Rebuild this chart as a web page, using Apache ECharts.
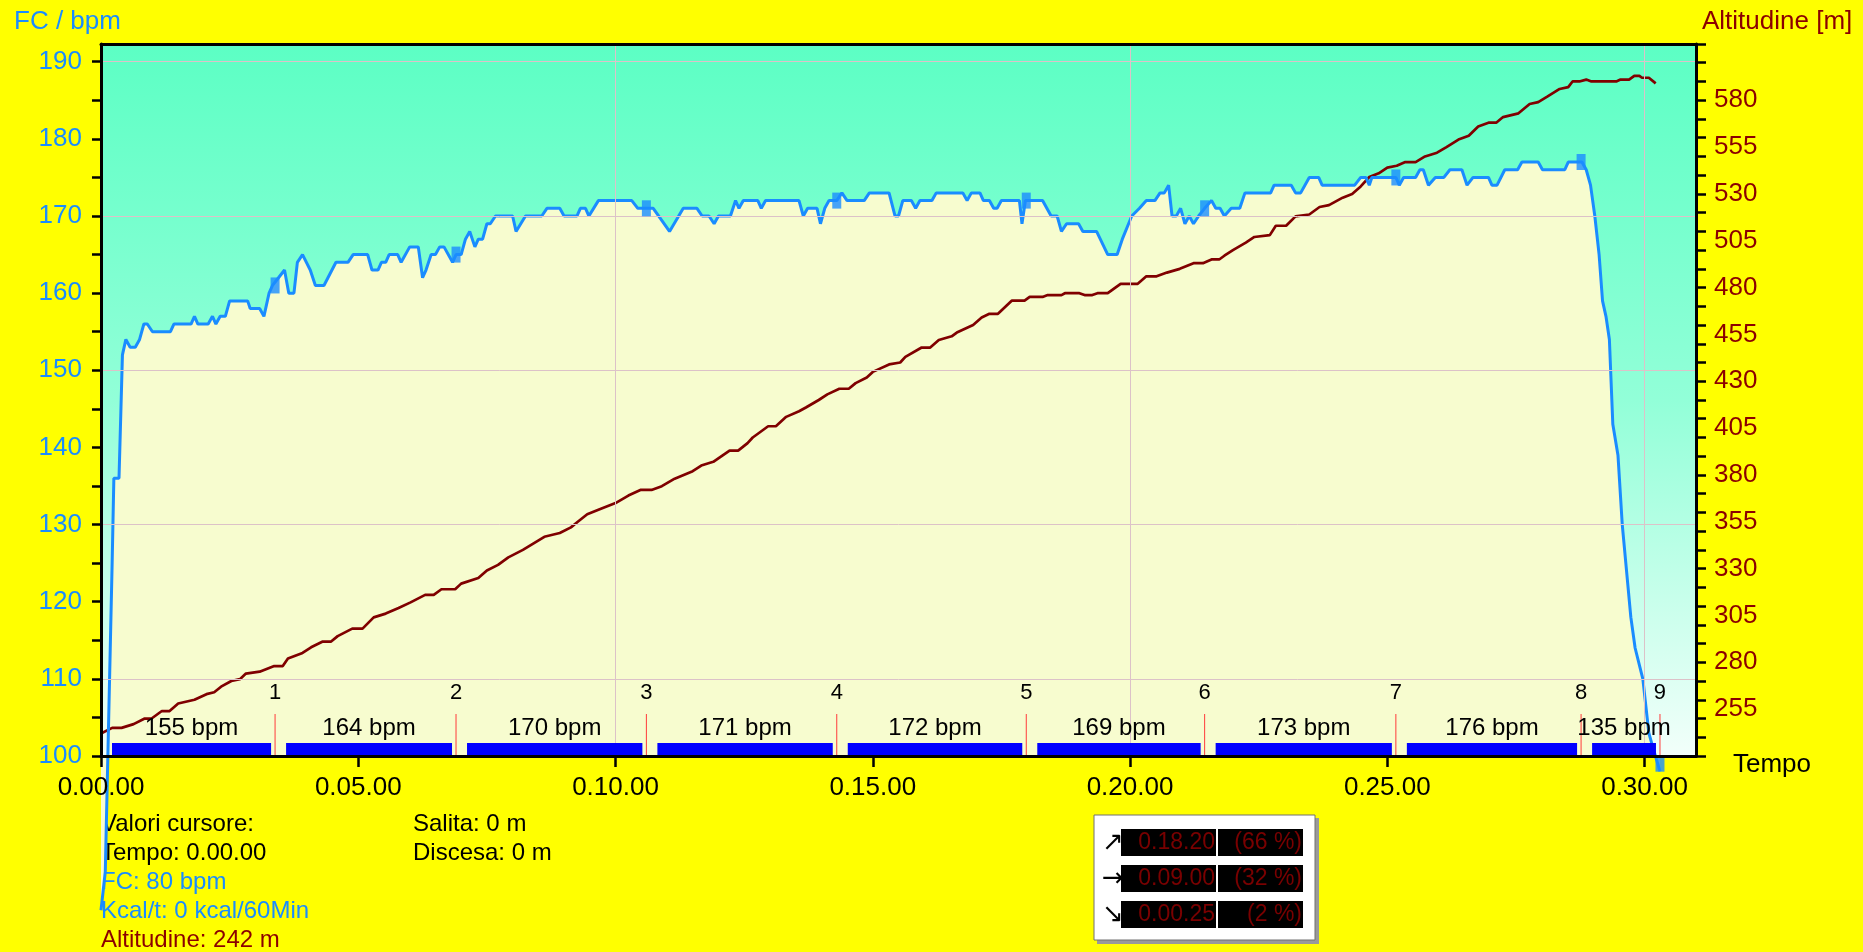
<!DOCTYPE html>
<html>
<head>
<meta charset="utf-8">
<title>FC / Altitudine</title>
<script src="https://cdn.jsdelivr.net/npm/echarts@6/dist/echarts.min.js"></script>
<style>
  html, body { margin: 0; padding: 0; background: #ffff00; }
  #chart { width: 1863px; height: 952px; }
</style>
</head>
<body>
<div id="chart"></div>
<script>
// heart rate trace: [seconds, bpm]
const hrSamples = [
  [0, 80], [5, 85], [11, 115], [13, 125], [15, 136], [21, 136], [25, 152], [29, 154], [34, 153], [40, 153],
  [45, 154], [50, 156], [54, 156], [60, 155], [81, 155], [85, 156], [105, 156], [109, 157], [113, 156], [125, 156],
  [130, 157], [134, 156], [139, 157], [145, 157], [150, 159], [171, 159], [174, 158], [185, 158], [190, 157], [196, 160],
  [200, 161], [207, 162], [214, 163], [219, 160], [225, 160], [229, 164], [235, 165], [244, 163], [250, 161], [260, 161],
  [274, 164], [288, 164], [294, 165], [311, 165], [316, 163], [323, 163], [327, 164], [332, 164], [336, 165], [346, 165],
  [350, 164], [360, 166], [370, 166], [375, 162], [379, 163], [385, 165], [390, 165], [395, 166], [400, 166], [410, 164],
  [414, 165], [420, 165], [425, 167], [430, 168], [436, 166], [440, 167], [445, 167], [450, 169], [454, 169], [460, 170],
  [480, 170], [484, 168], [495, 170], [514, 170], [520, 171], [535, 171], [540, 170], [555, 170], [559, 171], [565, 171],
  [569, 170], [580, 172], [619, 172], [626, 171], [644, 171], [663, 168], [665, 168], [679, 171], [695, 171], [701, 170],
  [709, 170], [715, 169], [720, 170], [734, 170], [740, 172], [744, 171], [749, 172], [766, 172], [770, 171], [775, 172],
  [814, 172], [819, 170], [824, 171], [835, 171], [839, 169], [844, 171], [849, 172], [858, 172], [864, 173], [870, 172],
  [890, 172], [896, 173], [919, 173], [926, 170], [930, 170], [935, 172], [945, 172], [950, 171], [955, 172], [969, 172],
  [974, 173], [1005, 173], [1010, 172], [1015, 173], [1025, 173], [1029, 172], [1036, 172], [1041, 171], [1045, 171], [1050, 172],
  [1071, 172], [1074, 169], [1078, 172], [1087, 172], [1098, 172], [1108, 170], [1115, 170], [1120, 168], [1126, 169], [1140, 169],
  [1145, 168], [1161, 168], [1174, 165], [1185, 165], [1191, 167], [1202, 170], [1211, 171], [1219, 172], [1229, 172], [1235, 173],
  [1240, 173], [1245, 174], [1249, 170], [1254, 170], [1259, 171], [1264, 169], [1269, 170], [1274, 169], [1280, 170], [1287, 171],
  [1295, 172], [1300, 171], [1305, 171], [1310, 170], [1318, 171], [1328, 171], [1334, 173], [1364, 173], [1368, 174], [1388, 174],
  [1393, 173], [1399, 173], [1409, 175], [1420, 175], [1424, 174], [1462, 174], [1469, 175], [1475, 175], [1479, 174], [1482, 175],
  [1510, 175], [1514, 174], [1519, 175], [1533, 175], [1538, 176], [1542, 176], [1548, 174], [1556, 175], [1566, 175], [1573, 176],
  [1587, 176], [1593, 174], [1600, 175], [1618, 175], [1622, 174], [1628, 174], [1637, 176], [1652, 176], [1657, 177], [1676, 177],
  [1681, 176], [1707, 176], [1711, 177], [1721, 177], [1727, 177], [1732, 176], [1737, 174], [1742, 170], [1747, 165], [1751, 159],
  [1755, 157], [1759, 154], [1763, 143], [1769, 139], [1774, 130], [1779, 124], [1784, 118], [1789, 114], [1798, 110], [1805, 103],
  [1810, 101], [1818, 98]
];

// altitude trace: [seconds, metres]
const altSamples = [
  [0, 242], [13, 245], [24, 245], [38, 247], [51, 250], [59, 250], [71, 254], [80, 254], [90, 258], [109, 260],
  [123, 263], [132, 264], [140, 267], [152, 270], [162, 271], [169, 274], [185, 275], [202, 278], [212, 278], [218, 282],
  [235, 285], [245, 288], [258, 291], [268, 291], [276, 294], [293, 298], [305, 298], [318, 304], [332, 306], [347, 309],
  [361, 312], [378, 316], [388, 316], [397, 319], [413, 319], [420, 322], [440, 325], [450, 329], [463, 332], [475, 336],
  [492, 340], [517, 347], [535, 349], [548, 352], [556, 355], [567, 359], [583, 362], [600, 365], [615, 369], [629, 372],
  [642, 372], [654, 374], [669, 378], [690, 382], [700, 385], [714, 387], [733, 393], [743, 393], [754, 397], [760, 400],
  [778, 406], [787, 406], [799, 411], [814, 414], [822, 416], [837, 420], [847, 423], [861, 426], [872, 426], [880, 429],
  [893, 432], [900, 435], [919, 439], [932, 440], [938, 443], [957, 448], [967, 448], [977, 452], [992, 454], [998, 456],
  [1017, 460], [1027, 464], [1036, 466], [1046, 466], [1062, 473], [1077, 473], [1083, 475], [1098, 475], [1104, 476], [1120, 476],
  [1124, 477], [1141, 477], [1147, 476], [1156, 476], [1162, 477], [1174, 477], [1189, 482], [1209, 482], [1219, 486], [1231, 486],
  [1243, 488], [1258, 490], [1274, 493], [1285, 493], [1295, 495], [1304, 495], [1310, 497], [1320, 500], [1335, 504], [1345, 507],
  [1363, 508], [1370, 513], [1382, 513], [1393, 518], [1409, 519], [1421, 523], [1432, 524], [1448, 528], [1459, 530], [1469, 534],
  [1479, 539], [1490, 541], [1500, 544], [1511, 545], [1521, 547], [1533, 547], [1544, 550], [1558, 552], [1569, 555], [1583, 559],
  [1595, 561], [1606, 566], [1618, 568], [1627, 568], [1635, 571], [1653, 573], [1666, 578], [1676, 579], [1687, 582], [1701, 586],
  [1711, 587], [1716, 590], [1724, 590], [1732, 591], [1738, 590], [1767, 590], [1772, 591], [1782, 591], [1788, 593], [1794, 593],
  [1797, 592], [1805, 592], [1813, 589]
];

// laps
const lapEnd = [203, 414, 636, 858, 1079, 1287, 1510, 1726, 1818];
const lapAvgBpm = [155, 164, 170, 171, 172, 169, 173, 176, 135];
const lapMarkBpm = [161, 165, 171, 172, 172, 171, 175, 177, 99];

// grid lines
const hrGridLines = [110, 130, 150, 170, 190];
const timeGridLines = [600, 1200, 1800];

// texts under the chart
const cursorLines = ['Valori cursore:', 'Tempo: 0.00.00', 'FC: 80 bpm', 'Kcal/t: 0 kcal/60Min', 'Altitudine: 242 m'];
const climbLines = ['Salita: 0 m', 'Discesa: 0 m'];
const zoneTimes = ['0.18.20', '0.09.00', '0.00.25'];
const zonePct = ['(66 %)', '(32 %)', '(2 %)'];
const zoneArrows = ['\u2197', '\u2192', '\u2198'];

const FONT = '"Liberation Sans", Arial, sans-serif';
const BLUE = '#1a8cff';
const DARKRED = '#8b0000';

function fmtTime(s) {
  const h = Math.floor(s / 3600);
  const m = Math.floor((s % 3600) / 60);
  const sec = Math.round(s % 60);
  return h + '.' + String(m).padStart(2, '0') + '.' + String(sec).padStart(2, '0');
}

const lapData = lapEnd.map((e, i) => [i ? lapEnd[i - 1] : 0, e, lapAvgBpm[i], i + 1]);

const cursorColors = ['#000', '#000', BLUE, BLUE, DARKRED];
const graphic = [
  { type: 'text', left: 14, top: 9, style: { text: 'FC / bpm', font: '26px ' + FONT, fill: BLUE } },
  { type: 'text', left: 1702, top: 9, style: { text: 'Altitudine [m]', font: '26px ' + FONT, fill: DARKRED } },
  { type: 'text', left: 1733, top: 752, style: { text: 'Tempo', font: '26px ' + FONT, fill: '#000' } }
];
cursorLines.forEach((t, i) => {
  graphic.push({ type: 'text', left: 101, top: 812 + i * 29.2, style: { text: t, font: '24px ' + FONT, fill: cursorColors[i] } });
});
climbLines.forEach((t, i) => {
  graphic.push({ type: 'text', left: 413, top: 812 + i * 29.2, style: { text: t, font: '24px ' + FONT, fill: '#000' } });
});
// time-in-zone box
graphic.push({ type: 'rect', shape: { x: 1097, y: 818, width: 222, height: 126 }, style: { fill: '#9a9a9a' } });
graphic.push({ type: 'rect', shape: { x: 1094, y: 815, width: 221, height: 125 }, style: { fill: '#fff', stroke: '#707070', lineWidth: 1 } });
zoneTimes.forEach((t, i) => {
  const y = 829 + i * 36;
  graphic.push({ type: 'rect', shape: { x: 1121, y: y, width: 95, height: 27 }, style: { fill: '#000' } });
  graphic.push({ type: 'rect', shape: { x: 1218, y: y, width: 85, height: 27 }, style: { fill: '#000' } });
  graphic.push({ type: 'text', x: 1215, y: y + 14, style: { text: t, font: '23px ' + FONT, fill: '#7a0000', align: 'right', verticalAlign: 'middle' } });
  graphic.push({ type: 'text', x: 1302, y: y + 14, style: { text: zonePct[i], font: '23px ' + FONT, fill: '#7a0000', align: 'right', verticalAlign: 'middle' } });
  graphic.push({ type: 'text', x: 1113, y: y + 14, style: { text: zoneArrows[i], font: '26px "DejaVu Sans"', fill: '#000', align: 'center', verticalAlign: 'middle' } });
});

const option = {
  animation: false,
  backgroundColor: '#ffff00',
  textStyle: { fontFamily: FONT },
  grid: {
    left: 101, right: 167, top: 44, bottom: 196,
    show: true,
    borderWidth: 0,
    backgroundColor: new echarts.graphic.LinearGradient(0, 0, 0, 1, [
      { offset: 0, color: '#5cffc4' },
      { offset: 0.5, color: '#92ffd8' },
      { offset: 1, color: '#f2fffa' }
    ])
  },
  xAxis: [
    {
      type: 'value', min: 0, max: 1860, interval: 300, z: 10,
      axisLine: { onZero: false, lineStyle: { color: '#000', width: 3 } },
      axisTick: { length: 11, lineStyle: { color: '#000', width: 2.5 } },
      axisLabel: { margin: 19, fontSize: 26, color: '#000', showMaxLabel: false, formatter: fmtTime },
      splitLine: { show: false }
    },
    {
      type: 'value', position: 'top', min: 0, max: 1860, z: 10,
      axisLine: { show: true, onZero: false, lineStyle: { color: '#000', width: 3 } },
      axisTick: { show: false }, axisLabel: { show: false }, splitLine: { show: false }
    }
  ],
  yAxis: [
    {
      // heart rate: ticks every 5, labels every 10
      type: 'value', position: 'left', min: 100, max: 192.3, interval: 5, z: 10,
      axisLine: { show: true, onZero: false, lineStyle: { color: '#000', width: 3 } },
      axisTick: { show: true, inside: false, length: 9, lineStyle: { color: '#000', width: 2.5 } },
      axisLabel: {
        margin: 19, fontSize: 26, color: BLUE, showMaxLabel: false,
        formatter: v => (v % 10 === 0 && v <= 190 ? String(v) : '')
      },
      splitLine: { show: false }
    },
    {
      // altitude: ticks every 10 m
      type: 'value', position: 'right', min: 230, max: 610, interval: 10, z: 10,
      axisLine: { show: true, onZero: false, lineStyle: { color: '#000', width: 3 } },
      axisTick: { show: true, inside: false, length: 10, lineStyle: { color: '#000', width: 2.5 } },
      axisLabel: { show: false },
      splitLine: { show: false }
    },
    {
      // altitude labels every 25 m
      type: 'value', position: 'right', min: 230, max: 610, interval: 25, z: 10,
      axisLine: { show: false, onZero: false }, axisTick: { show: false },
      axisLabel: {
        margin: 18, fontSize: 26, color: DARKRED, showMaxLabel: false,
        formatter: v => (v >= 255 && v <= 580 ? String(v) : '')
      },
      splitLine: { show: false }
    }
  ],
  graphic: graphic,
  series: [
    {
      name: 'grid',
      type: 'line',
      z: 1,
      data: [],
      silent: true,
      markLine: {
        silent: true,
        symbol: ['none', 'none'],
        label: { show: false },
        lineStyle: { color: '#dcc2c8', width: 1, type: 'solid' },
        data: hrGridLines.map(v => ({ yAxis: v })).concat(timeGridLines.map(v => ({ xAxis: v })))
      }
    },
    {
      name: 'FC area',
      type: 'line',
      z: 2,
      clip: false,
      showSymbol: false,
      data: hrSamples,
      lineStyle: { width: 0 },
      areaStyle: { color: '#f7fccf', opacity: 1 }
    },
    {
      name: 'Altitudine',
      type: 'line',
      z: 3,
      yAxisIndex: 1,
      showSymbol: false,
      data: altSamples,
      lineStyle: { color: '#800000', width: 2.7 }
    },
    {
      name: 'FC',
      type: 'line',
      z: 4,
      clip: false,
      showSymbol: false,
      data: hrSamples,
      lineStyle: { color: BLUE, width: 3 }
    },
    {
      name: 'lap markers',
      type: 'scatter',
      z: 5,
      clip: false,
      symbol: 'rect',
      symbolSize: [9, 16],
      itemStyle: { color: BLUE },
      data: lapEnd.map((t, i) => [t, lapMarkBpm[i]])
    },
    {
      name: 'laps',
      type: 'custom',
      z: 6,
      data: lapData,
      encode: { x: [0, 1], y: 2 },
      renderItem: function (params, api) {
        const p0 = api.coord([api.value(0), 100]);
        const p1 = api.coord([api.value(1), 100]);
        const yb = p0[1];
        const bx0 = p0[0] + 11;
        const bx1 = p1[0] - 4;
        return {
          type: 'group',
          children: [
            { type: 'rect', shape: { x: bx0, y: yb - 13, width: bx1 - bx0, height: 12 }, style: { fill: '#0000ff' } },
            { type: 'line', shape: { x1: p1[0], y1: yb - 42, x2: p1[0], y2: yb }, style: { stroke: '#ff3b3b', lineWidth: 1 } },
            { type: 'text', x: (bx0 + bx1) / 2, y: yb - 28, style: { text: api.value(2) + ' bpm', font: '24px ' + FONT, fill: '#000', align: 'center', verticalAlign: 'middle' } },
            { type: 'text', x: p1[0], y: yb - 63, style: { text: String(api.value(3)), font: '22px ' + FONT, fill: '#000', align: 'center', verticalAlign: 'middle' } }
          ]
        };
      }
    }
  ]
};

const chart = echarts.init(document.getElementById('chart'));
chart.setOption(option);
</script>
</body>
</html>
